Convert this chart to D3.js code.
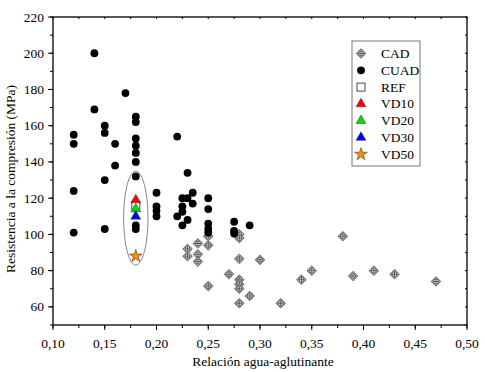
<!DOCTYPE html>
<html><head><meta charset="utf-8">
<script src="https://cdn.jsdelivr.net/npm/d3@7"></script>
<style>body{margin:0;background:#fff}svg{display:block}</style>
</head><body>
<svg id="c" width="485" height="372" font-family="'Liberation Serif', 'Times New Roman', Times, 'DejaVu Serif', serif"></svg>
<script>
// ---- data ----
const cadX = [0.23,0.23,0.24,0.24,0.24,0.25,0.25,0.25,0.27,0.28,0.28,0.28,0.28,0.28,0.28,0.28,0.29,0.30,0.32,0.34,0.35,0.38,0.39,0.41,0.43,0.47];
const cadY = [92,88,95,89,85,99,94,71.5,78,100,98,86.5,75,72.5,70,62,66,86,62,75,80,99,77,80,78,74];
const cuadX = [0.12,0.12,0.12,0.12,0.14,0.14,0.15,0.15,0.15,0.15,0.16,0.16,0.17,
  0.18,0.18,0.18,0.18,0.18,0.18,0.18,0.18,0.18,0.20,0.20,0.20,0.20,0.22,0.22,
  0.225,0.225,0.225,0.225,0.23,0.23,0.23,0.235,0.235,0.25,0.25,0.25,0.25,0.25,0.275,0.275,0.275,0.29];
const cuadY = [155,150,124,101,200,169,160,156,130,103,150,138,178,
  165,162,153,149,145,140,132,105,103,123,115.5,113,110,154,110,
  120,115.5,112.5,105,134,120,108,123,117,120,114,106,103,101,107,102,100.5,105];
const refPt = [0.18, 116];
const vd10 = [0.18, 119];
const vd20 = [0.18, 114];
const vd30 = [0.18, 110];
const vd50 = [0.18, 88];
const ellipseSpec = {cx:0.18, cy:109, rx:0.0118, ry:26};
const xTicks = [0.10,0.15,0.20,0.25,0.30,0.35,0.40,0.45,0.50];
const yTicks = [60,80,100,120,140,160,180,200,220];
const legendItems = ["CAD","CUAD","REF","VD10","VD20","VD30","VD50"];

// ---- layout ----
const L=53, R=467, T=17, B=325;
const svg = d3.select("#c");
const x = d3.scaleLinear().domain([0.10,0.50]).range([L,R]);
const y = d3.scaleLinear().domain([50,220]).range([B,T]);
const fmt = d => d.toFixed(2).replace(".",",");

const xMinor = d3.range(0.10,0.5001,0.025);
const yMinor = d3.range(50,220.01,10);

// bottom axis
const gx = svg.append("g").attr("transform",`translate(0,${B})`);
gx.selectAll("line.mi").data(xMinor).join("line").attr("x1",d=>x(d)).attr("x2",d=>x(d)).attr("y1",0).attr("y2",3).attr("stroke","#000");
gx.selectAll("line.ma").data(xTicks).join("line").attr("x1",d=>x(d)).attr("x2",d=>x(d)).attr("y1",0).attr("y2",5).attr("stroke","#000");
gx.selectAll("text").data(xTicks).join("text").attr("x",d=>x(d)).attr("y",23).attr("text-anchor","middle").attr("font-size",13.5).text(fmt);
svg.append("g").selectAll("line").data(xMinor).join("line").attr("x1",d=>x(d)).attr("x2",d=>x(d)).attr("y1",T).attr("y2",T+2).attr("stroke","#000");

// left axis
const gy = svg.append("g").attr("transform",`translate(${L},0)`);
gy.selectAll("line.mi").data(yMinor).join("line").attr("y1",d=>y(d)).attr("y2",d=>y(d)).attr("x1",0).attr("x2",-3).attr("stroke","#000");
gy.selectAll("line.ma").data(yTicks).join("line").attr("y1",d=>y(d)).attr("y2",d=>y(d)).attr("x1",0).attr("x2",-5).attr("stroke","#000");
gy.selectAll("text").data(yTicks).join("text").attr("x",-9).attr("y",d=>y(d)+4.5).attr("text-anchor","end").attr("font-size",13.5).text(d=>d);
svg.append("g").selectAll("line").data(yMinor).join("line").attr("y1",d=>y(d)).attr("y2",d=>y(d)).attr("x1",R).attr("x2",R-2).attr("stroke","#000");

// frame
svg.append("rect").attr("x",L).attr("y",T).attr("width",R-L).attr("height",B-T).attr("fill","none").attr("stroke","#000").attr("stroke-width",1.3);

// titles
svg.append("text").attr("x",(L+R)/2+3).attr("y",366).attr("text-anchor","middle").attr("font-size",13.5).text("Relación agua-aglutinante");
svg.append("text").attr("transform",`translate(15,${(T+B)/2+8}) rotate(-90)`).attr("text-anchor","middle").attr("font-size",13.5).text("Resistencia a la compresión (MPa)");

function cadMarker(g){
  g.append("path").attr("d","M0,-4.5L4.5,0L0,4.5L-4.5,0Z").attr("fill","#fff").attr("stroke","#777").attr("stroke-width",1.2);
  g.append("circle").attr("r",2.4).attr("fill","none").attr("stroke","#555").attr("stroke-width",0.8);
  g.append("path").attr("d","M-3,0H3M0,-3V3").attr("stroke","#444").attr("stroke-width",0.9);
}
const cad = cadX.map((d,i)=>[d,cadY[i]]);
svg.append("g").selectAll("g").data(cad).join("g").attr("transform",d=>`translate(${x(d[0])},${y(d[1])})`).each(function(){cadMarker(d3.select(this));});

const cuad = cuadX.map((d,i)=>[d,cuadY[i]]);
svg.append("g").selectAll("circle").data(cuad).join("circle").attr("cx",d=>x(d[0])).attr("cy",d=>y(d[1])).attr("r",3.9).attr("fill","#000");

const e = ellipseSpec;
svg.append("ellipse").attr("cx",x(e.cx)).attr("cy",y(e.cy)).attr("rx",x(e.cx+e.rx)-x(e.cx)).attr("ry",y(e.cy-e.ry)-y(e.cy)).attr("fill","none").attr("stroke","#888").attr("stroke-width",1);

const sq = 8;
svg.append("rect").attr("x",x(refPt[0])-sq/2).attr("y",y(refPt[1])-sq/2).attr("width",sq).attr("height",sq).attr("fill","#fff").attr("stroke","#333").attr("stroke-width",0.9);
const tri = d3.symbol().type(d3.symbolTriangle).size(42);
const star = d3.symbol().type(d3.symbolStar).size(50);
[[vd10,"#ff0000"],[vd20,"#00e000"],[vd30,"#0000ff"]].forEach(([p,c])=>{
  svg.append("path").attr("d",tri()).attr("transform",`translate(${x(p[0])},${y(p[1])})`).attr("fill",c).attr("stroke","#333").attr("stroke-width",0.5);
});
svg.append("path").attr("d",star()).attr("transform",`translate(${x(vd50[0])},${y(vd50[1])})`).attr("fill","#f0901a").attr("stroke","#663300").attr("stroke-width",0.6);

const lg = svg.append("g");
lg.append("rect").attr("x",352).attr("y",41).attr("width",68).attr("height",125).attr("fill","#fff").attr("stroke","#777").attr("stroke-width",1);
legendItems.forEach((name,i)=>{
  const cy = 53.5 + i*16.8;
  const g = lg.append("g").attr("transform",`translate(361,${cy})`);
  if(name==="CAD"){cadMarker(g);}
  else if(name==="CUAD"){g.append("circle").attr("r",3.9).attr("fill","#000");}
  else if(name==="REF"){g.append("rect").attr("x",-4).attr("y",-4).attr("width",8).attr("height",8).attr("fill","#fff").attr("stroke","#333").attr("stroke-width",0.9);}
  else if(name==="VD50"){g.append("path").attr("d",star()).attr("fill","#f0901a").attr("stroke","#663300").attr("stroke-width",0.6);}
  else {const c={VD10:"#ff0000",VD20:"#00e000",VD30:"#0000ff"}[name]; g.append("path").attr("d",tri()).attr("fill",c).attr("stroke","#333").attr("stroke-width",0.5);}
  lg.append("text").attr("x",381).attr("y",cy+4.5).attr("font-size",13.5).text(name);
});
</script>
</body></html>
